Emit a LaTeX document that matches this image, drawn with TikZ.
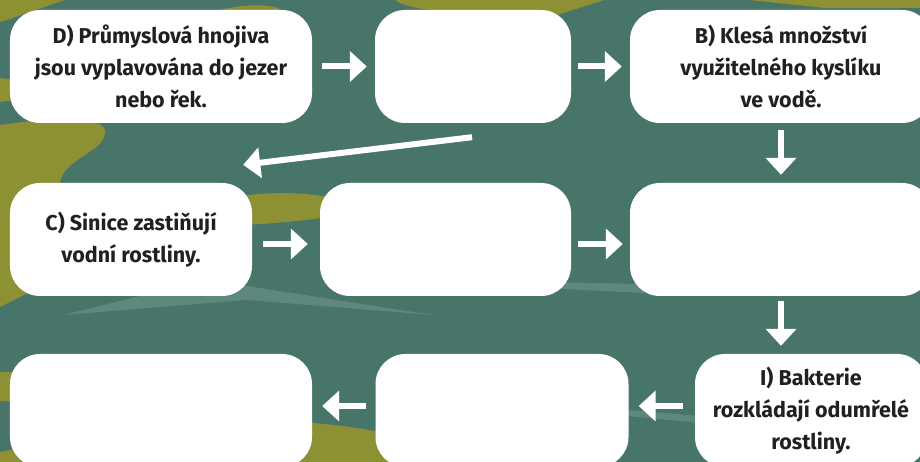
\documentclass[tikz,border=0pt]{standalone}
\usepackage{fontspec}
\setmainfont{Fira Sans}
\usetikzlibrary{arrows.meta,calc}
\definecolor{teal0}{HTML}{48756A}
\definecolor{olive0}{HTML}{8D9134}
\definecolor{streak}{HTML}{5E877E}
\definecolor{ink}{HTML}{231F20}
\begin{document}
\begin{tikzpicture}[x=1bp,y=-1bp,
  box/.style={fill=white, rounded corners=30bp, minimum height=113bp, inner sep=0pt,
    align=center, text=ink, font=\fontsize{21.5bp}{32bp}\selectfont\bfseries},
  arr/.style={draw=white, line width=6bp, -{Triangle[length=17bp,width=30bp]}}]
% background
\fill[teal0] (0,0) rectangle (920,462);
\useasboundingbox (0,0) rectangle (920,462);
\fill[olive0] (0,0) -- (65,0) .. controls (40,8) and (20,16) .. (0,22) -- cycle;
\fill[olive0] (0,78) -- (15,80) -- (15,100) -- (0,102) -- cycle;
\fill[olive0] (0,125) -- (30,121) -- (97,123) .. controls (110,127) and (106,140) .. (95,148)
  .. controls (75,162) and (60,170) .. (60,185) -- (60,290) -- (30,292) -- (0,307) -- cycle;
\fill[olive0] (205,16) .. controls (220,7) and (258,2) .. (278,8) -- (290,20) -- cycle;
\fill[olive0] (395,0) .. controls (405,7) and (425,11) .. (460,12) -- (557,15) -- (604,0) -- cycle;
\fill[olive0] (749,0) -- (825,8) -- (920,8) -- (920,0) -- cycle;
\fill[olive0] (240,196) .. controls (270,192) and (300,192) .. (330,197) -- (330,217)
  .. controls (300,221) and (270,224) .. (240,225) -- cycle;
\fill[olive0] (0,372) -- (15,372) -- (15,402) -- (0,401) -- cycle;
\fill[olive0] (0,452) .. controls (100,432) and (250,420) .. (312,423)
  .. controls (340,425) and (370,429) .. (420,440) -- (420,462) -- (0,462) -- cycle;
\fill[streak] (63,315) -- (140,296) -- (247,286) -- (433,315) -- (247,300) -- cycle;
\fill[streak] (550,282) -- (640,284) -- (645,293) -- (560,289) -- cycle;
\fill[streak] (628,410) -- (700,416) -- (700,423) -- (628,416) -- cycle;
% boxes
\node[box, minimum width=302bp] (D) at (161,66.5) {D) Průmyslová hnojiva\\jsou vyplavována do jezer\\nebo řek.};
\node[box, minimum width=196bp] (M1) at (473,66.5) {};
\node[box, minimum width=302bp] (B) at (781,66.5) {B) Klesá množství\\využitelného kyslíku\\ve vodě.};
\node[box, minimum width=242bp] (C) at (131,239.5) {C) Sinice zastiňují\\vodní rostliny.};
\node[box, minimum width=251bp] (M2) at (445.5,239.5) {};
\node[box, minimum width=302bp] (R2) at (781,239.5) {};
\node[box, minimum width=302bp] (BL) at (161,410.5) {};
\node[box, minimum width=253bp] (BM) at (502,410.5) {};
\node[box, minimum width=232bp] (I) at (811,410.5) {I) Bakterie\\rozkládají odumřelé\\rostliny.};
% arrows
\draw[arr, shorten <=10bp, shorten >=8bp] (D.east) -- (M1.west);
\draw[arr, shorten <=7bp, shorten >=8bp] (M1.east) -- (B.west);
\draw[arr] ($(M1.south)+(-1,14)$) -- ($(C.north east)+(-9,-18)$);
\draw[arr, shorten <=7bp, shorten >=8bp] (B.south) -- (R2.north);
\draw[arr] ($(C.east)+(11,4.5)$) -- ($(M2.west)+(-12,4.5)$);
\draw[arr] ($(M2.east)+(7,4.5)$) -- ($(R2.west)+(-7,4.5)$);
\draw[arr, shorten <=5bp, shorten >=8bp] (R2.south) -- (R2.south |- I.north);
\draw[arr] ($(I.west)+(-12,-4.5)$) -- ($(BM.east)+(10,-4.5)$);
\draw[arr] ($(BM.west)+(-9,-4.5)$) -- ($(BL.east)+(10,-4.5)$);
\end{tikzpicture}
\end{document}
